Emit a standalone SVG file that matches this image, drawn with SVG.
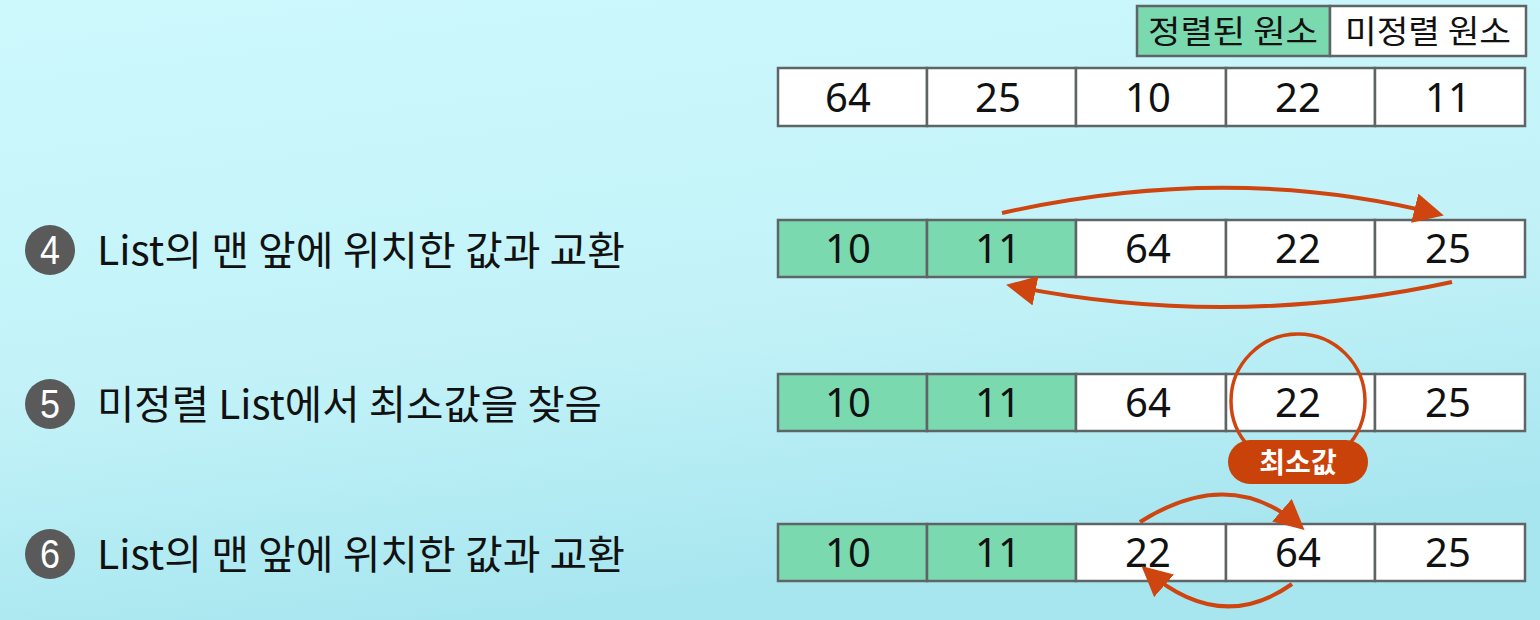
<svg xmlns="http://www.w3.org/2000/svg" width="1540" height="620" viewBox="0 0 1540 620">
<style>
.cell{stroke:#5f6466;stroke-width:2.5}
.g{fill:#7bd9b0}
.w{fill:#ffffff}
.num{font-family:"Noto Sans","Open Sans","Noto Sans CJK KR",sans-serif;font-size:40px;fill:#111;text-anchor:middle}
.lab{font-family:"Noto Sans CJK KR","Noto Sans",sans-serif;font-size:40px;fill:#111}
.leg{font-family:"Noto Sans CJK KR",sans-serif;font-size:32px;fill:#111;text-anchor:middle}
.badge{fill:#5a5a5a}
.bnum{font-family:"Liberation Sans",Arial,sans-serif;font-size:40px;fill:#fff;text-anchor:middle}
.arc{fill:none;stroke:#cf4510;stroke-width:4}
</style>
<defs>
<linearGradient id="bg" x1="0" y1="0" x2="0.3" y2="1">
<stop offset="0" stop-color="#cdf9fd"/>
<stop offset="0.6" stop-color="#c2f2f8"/>
<stop offset="1" stop-color="#a8e6ef"/>
</linearGradient>
<marker id="ah" viewBox="0 0 10 10" refX="8" refY="5" markerWidth="7.5" markerHeight="7.5" orient="auto" markerUnits="strokeWidth">
<path d="M0,0 L10,5 L0,10 z" fill="#cf4510"/>
</marker>
</defs>
<rect width="1540" height="620" fill="url(#bg)"/>

<g id="legend">
<rect class="cell g" x="1137" y="6" width="193" height="50"/>
<rect class="cell w" x="1330" y="6" width="196" height="50"/>
<text class="leg" x="1233" y="43" textLength="170" lengthAdjust="spacingAndGlyphs">정렬된 원소</text>
<text class="leg" x="1428" y="43" textLength="166" lengthAdjust="spacingAndGlyphs">미정렬 원소</text>
</g>

<g id="row0">
<rect class="cell w" x="778" y="68" width="149" height="58"/>
<rect class="cell w" x="927" y="68" width="149" height="58"/>
<rect class="cell w" x="1076" y="68" width="150" height="58"/>
<rect class="cell w" x="1226" y="68" width="149" height="58"/>
<rect class="cell w" x="1375" y="68" width="150" height="58"/>
<text class="num" x="848" y="112">64</text>
<text class="num" x="998" y="112">25</text>
<text class="num" x="1148" y="112">10</text>
<text class="num" x="1298" y="112">22</text>
<text class="num" x="1448" y="112">11</text>
</g>

<g id="step4">
<circle class="badge" cx="50" cy="250" r="25"/>
<text class="bnum" x="50" y="264" textLength="20" lengthAdjust="spacingAndGlyphs">4</text>
<text class="lab" x="97" y="265" textLength="528" lengthAdjust="spacingAndGlyphs">List의 맨 앞에 위치한 값과 교환</text>
<rect class="cell g" x="778" y="220" width="149" height="57"/>
<rect class="cell g" x="927" y="220" width="149" height="57"/>
<rect class="cell w" x="1076" y="220" width="150" height="57"/>
<rect class="cell w" x="1226" y="220" width="149" height="57"/>
<rect class="cell w" x="1375" y="220" width="150" height="57"/>
<text class="num" x="848" y="263">10</text>
<text class="num" x="998" y="263">11</text>
<text class="num" x="1148" y="263">64</text>
<text class="num" x="1298" y="263">22</text>
<text class="num" x="1448" y="263">25</text>
</g>

<g id="step5">
<circle class="badge" cx="50" cy="404" r="25"/>
<text class="bnum" x="50" y="418" textLength="20" lengthAdjust="spacingAndGlyphs">5</text>
<text class="lab" x="97" y="419" textLength="505" lengthAdjust="spacingAndGlyphs">미정렬 List에서 최소값을 찾음</text>
<rect class="cell g" x="778" y="374" width="149" height="57"/>
<rect class="cell g" x="927" y="374" width="149" height="57"/>
<rect class="cell w" x="1076" y="374" width="150" height="57"/>
<rect class="cell w" x="1226" y="374" width="149" height="57"/>
<rect class="cell w" x="1375" y="374" width="150" height="57"/>
<text class="num" x="848" y="417">10</text>
<text class="num" x="998" y="417">11</text>
<text class="num" x="1148" y="417">64</text>
<text class="num" x="1298" y="417">22</text>
<text class="num" x="1448" y="417">25</text>
</g>

<g id="minmark">
<circle cx="1298" cy="401" r="67" fill="none" stroke="#cf4510" stroke-width="3.5"/>
<rect x="1228" y="440" width="140" height="44" rx="22" fill="#c8420a"/>
<text x="1298" y="473" font-family="Noto Sans CJK KR,sans-serif" font-size="28" font-weight="bold" fill="#fff" text-anchor="middle">최소값</text>
</g>

<g id="step6">
<circle class="badge" cx="50" cy="554" r="25"/>
<text class="bnum" x="50" y="568" textLength="20" lengthAdjust="spacingAndGlyphs">6</text>
<text class="lab" x="97" y="569" textLength="528" lengthAdjust="spacingAndGlyphs">List의 맨 앞에 위치한 값과 교환</text>
<rect class="cell g" x="778" y="524" width="149" height="57"/>
<rect class="cell g" x="927" y="524" width="149" height="57"/>
<rect class="cell w" x="1076" y="524" width="150" height="57"/>
<rect class="cell w" x="1226" y="524" width="149" height="57"/>
<rect class="cell w" x="1375" y="524" width="150" height="57"/>
<text class="num" x="848" y="567">10</text>
<text class="num" x="998" y="567">11</text>
<text class="num" x="1148" y="567">22</text>
<text class="num" x="1298" y="567">64</text>
<text class="num" x="1448" y="567">25</text>
</g>

<g id="connectors">
<path class="arc" d="M1002,213 Q1230,162 1438,214" marker-end="url(#ah)"/>
<path class="arc" d="M1452,282 Q1230,330 1012,286" marker-end="url(#ah)"/>
<path class="arc" d="M1140,522 Q1230,465 1300,526" marker-end="url(#ah)"/>
<path class="arc" d="M1292,584 Q1220,635 1146,570" marker-end="url(#ah)"/>
</g>
</svg>
